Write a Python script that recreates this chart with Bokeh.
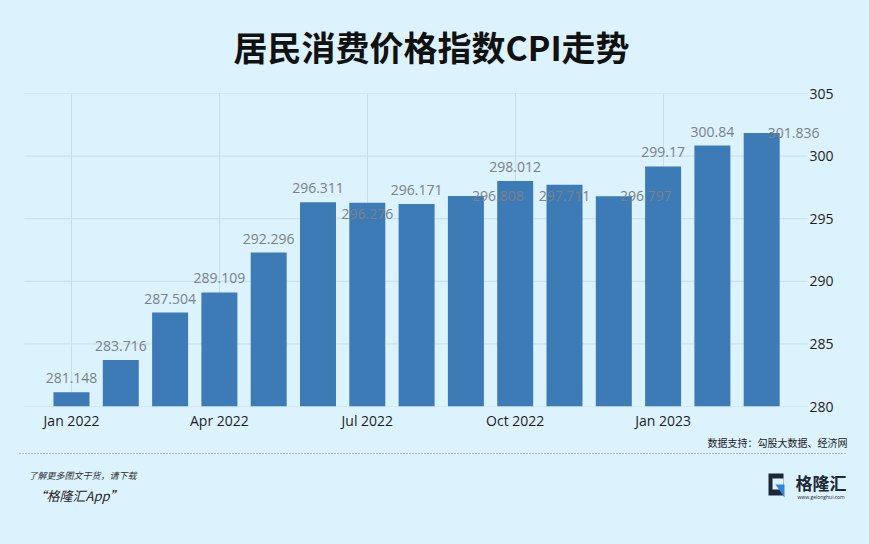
from bokeh.plotting import figure
from bokeh.models import Range1d, FixedTicker, ColumnDataSource, LabelSet
from bokeh.layouts import column
from bokeh.embed import file_html
from bokeh.resources import INLINE
from bokeh.core.properties import value

# ---------------- data ----------------
months = ["Jan 2022", "Feb 2022", "Mar 2022", "Apr 2022", "May 2022", "Jun 2022",
          "Jul 2022", "Aug 2022", "Sep 2022", "Oct 2022", "Nov 2022", "Dec 2022",
          "Jan 2023", "Feb 2023", "Mar 2023"]
cpi = [281.148, 283.716, 287.504, 289.109, 292.296, 296.311, 296.276, 296.171,
       296.808, 298.012, 297.711, 296.797, 299.17, 300.84, 301.836]
y_ticks = [280, 285, 290, 295, 300, 305]
x_tick_step = 3
title = "居民消费价格指数CPI走势"
source_note = "数据支持：勾股大数据、经济网"
promo_1 = "了解更多图文干货，请下载"
promo_2 = "“格隆汇App”"
brand = "格隆汇"
brand_url = "www.gelonghui.com"

# label placement styles (pixel offsets from bar top, y up)
lab_dx = [0, 0, 0, 0, 0, 0, 0, 0, 32, 0, 0, 32, 0, 0, 32]
lab_dy = [14, 14, 14, 14, 14, 14, -11, 14, 0, 14, -11, 0, 14, 14, 0]

# ---------------- styles ----------------
BG = "#dcf2fc"
BAR = "#3d7bb6"
GRID = "#c4dfeb"
W = 869
H = 544
FL, FR = 18, 849            # frame left/right (screen px), shared by all figures
FONT = "Open Sans"
CJK = "Noto Sans CJK SC"

def blank(top, bottom):
    h = bottom - top
    f = figure(width=W, height=h, x_range=Range1d(FL, FR), y_range=Range1d(H - bottom, H - top),
               x_axis_type=None, y_axis_type=None, toolbar_location=None,
               output_backend="svg", min_border_left=FL, min_border_right=W - FR,
               min_border_top=0, min_border_bottom=0, outline_line_color=None,
               background_fill_color=BG, border_fill_color=BG)
    return f

# ---------------- title ----------------
tf = blank(0, 80)
tf.text(x=[431], y=[H - 46], text=[title], text_font=value(CJK), text_font_style="bold",
        text_font_size="34px", text_align="center", text_baseline="middle",
        text_color="#111111")

# ---------------- main chart ----------------
idx = list(range(len(months)))
src = ColumnDataSource(dict(
    x=idx, top=cpi, label=[f"{v:g}" for v in cpi], dx=lab_dx, dy=lab_dy))

px_per_unit = 49.3
x0_screen = 71
x_start = (FL - x0_screen) / px_per_unit
x_end = (FR - x0_screen) / px_per_unit
grid_x0 = (24 - x0_screen) / px_per_unit
grid_x1 = (807 - x0_screen) / px_per_unit

p = figure(width=W, height=352, x_range=Range1d(x_start, x_end),
           y_range=Range1d(y_ticks[0], y_ticks[-1]), y_axis_location="right",
           toolbar_location=None, output_backend="svg",
           min_border_left=FL, min_border_right=W - FR, min_border_top=13,
           min_border_bottom=25, outline_line_color=None,
           background_fill_color=BG, border_fill_color=BG)

# horizontal grid lines (ending before the axis labels)
p.segment(x0=grid_x0, x1=grid_x1, y0=y_ticks, y1=y_ticks, line_color=GRID, line_width=1)

p.vbar(x="x", top="top", bottom=y_ticks[0], width=0.73, source=src,
       fill_color=BAR, line_color=None)

labels = LabelSet(x="x", y="top", text="label", x_offset="dx", y_offset="dy",
                  source=src, text_font=value(FONT), text_font_size="14px",
                  text_color="#7a8189", text_align="center", text_baseline="middle")
p.add_layout(labels)

xt = idx[::x_tick_step]
p.xaxis.ticker = FixedTicker(ticks=xt)
p.xaxis.major_label_overrides = {i: months[i] for i in xt}
p.yaxis.ticker = FixedTicker(ticks=y_ticks)
for ax in (p.xaxis, p.yaxis):
    ax.axis_line_color = None
    ax.major_tick_line_color = None
    ax.minor_tick_line_color = None
    ax.major_tick_out = 0
    ax.major_tick_in = 0
    ax.minor_tick_out = 0
    ax.major_label_text_font = FONT
    ax.major_label_text_font_size = "14px"
    ax.major_label_text_color = "#1e1e1e"
p.xaxis.major_label_standoff = 4
p.yaxis.major_label_standoff = 809 - FR
p.xgrid.grid_line_color = GRID
p.ygrid.grid_line_color = None

# ---------------- footer ----------------
ff = blank(432, 544)
ff.text(x=[847], y=[H - 442], text=[source_note], text_font=value(CJK),
        text_font_size="10px", text_align="right", text_baseline="middle",
        text_color="#222222")
ff.line(x=[19, 847], y=[H - 453, H - 453], line_color="#8a8f94", line_dash="1 2", line_width=1)
ff.text(x=[28], y=[H - 475], text=[promo_1], text_font=value(CJK), text_font_style="italic",
        text_font_size="9px", text_align="left", text_baseline="middle",
        text_color="#333333")
ff.text(x=[33], y=[H - 495], text=[promo_2], text_font=value(CJK), text_font_style="italic",
        text_font_size="13px", text_align="left", text_baseline="middle",
        text_color="#222222")
# logo
ff.quad(left=[768], right=[783], bottom=[H - 495], top=[H - 473], fill_color="#1c2836", line_color=None)
ff.quad(left=[772], right=[783], bottom=[H - 489], top=[H - 478], fill_color=BG, line_color=None)
ff.patch(x=[775, 784, 784], y=[H - 484, H - 484, H - 497], fill_color="#2f86d9", line_color=None)
ff.text(x=[795], y=[H - 482], text=[brand], text_font=value(CJK), text_font_style="bold",
        text_font_size="17px", text_align="left", text_baseline="middle",
        text_color="#1c2836")
ff.text(x=[797], y=[H - 496], text=[brand_url], text_font=value(FONT),
        text_font_size="5px", text_align="left", text_baseline="middle",
        text_color="#1c2836")

layout = column(tf, p, ff, spacing=0)
html = file_html(layout, INLINE)
html = html.replace("<head>", "<head><style>html,body{background:%s;}</style>" % BG, 1)
open("out.html", "w").write(html)
